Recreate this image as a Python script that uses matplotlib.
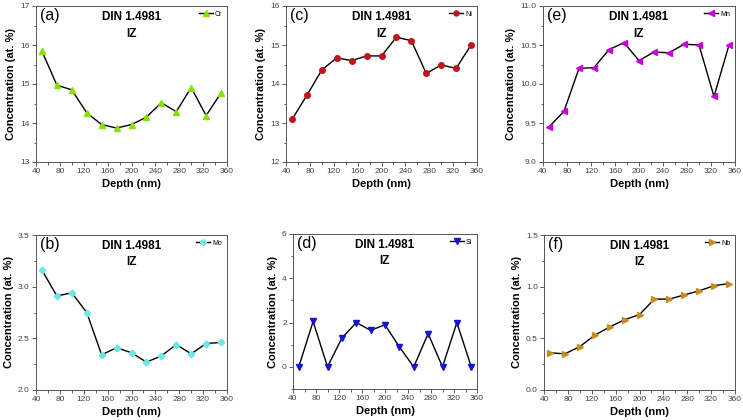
import matplotlib
matplotlib.use("Agg")
import matplotlib.pyplot as plt
from matplotlib.ticker import MultipleLocator, FormatStrFormatter

plt.rcParams['font.family'] = ['Liberation Sans', 'DejaVu Sans']

depth = [50, 75, 100, 125, 150, 175, 200, 225, 250, 275, 300, 325, 350]

cr = [15.84, 14.97, 14.85, 14.26, 13.96, 13.87, 13.96, 14.15, 14.52, 14.29, 14.91, 14.19, 14.77]
ni = [13.09, 13.71, 14.36, 14.67, 14.60, 14.72, 14.72, 15.20, 15.11, 14.27, 14.49, 14.40, 15.00]
mn = [9.45, 9.65, 10.20, 10.21, 10.44, 10.53, 10.30, 10.41, 10.40, 10.51, 10.50, 9.84, 10.50]
mo = [3.16, 2.91, 2.94, 2.75, 2.34, 2.41, 2.36, 2.27, 2.33, 2.44, 2.35, 2.45, 2.46]
si = [0.0, 2.05, 0.0, 1.30, 2.00, 1.65, 1.90, 0.90, 0.0, 1.50, 0.0, 2.00, 0.0]
nb = [0.36, 0.35, 0.42, 0.53, 0.61, 0.68, 0.73, 0.88, 0.88, 0.92, 0.96, 1.01, 1.03]

panels = [
    # label, name, values, marker, color, ylim, ymajor, yminor, fmt, rect
    ("(a)", "Cr", cr, "^", "#86e000", (13, 17), 1, 0.5, "%d", [36, 6, 227, 162]),
    ("(c)", "Ni", ni, "o", "#c0141c", (12, 16), 1, 0.5, "%d", [286, 6, 477, 162]),
    ("(e)", "Mn", mn, "<", "#c800d8", (9, 11), 0.5, 0.25, "%.1f", [543, 6, 735, 162]),
    ("(b)", "Mo", mo, "D", "#6ee6e6", (2, 3.5), 0.5, 0.25, "%.1f", [36, 235, 227, 390]),
    ("(d)", "Si", si, "v", "#1414d2", (-1, 6), 2, 1, "%d", [293, 234, 477, 389]),
    ("(f)", "Nb", nb, ">", "#c88c1e", (0, 1.5), 0.5, 0.25, "%.1f", [544, 235, 735, 390]),
]

W, H = 743, 420
fig = plt.figure(figsize=(W / 100, H / 100), dpi=100)

for lab, name, vals, mk, col, ylim, ymaj, ymin, fmt, (x0, y0, x1, y1) in panels:
    ax = fig.add_axes([x0 / W, 1 - y1 / H, (x1 - x0) / W, (y1 - y0) / H])
    ms = 3.4 if mk == "D" else (4.0 if mk == "o" else 4.6)
    ax.plot(depth, vals, color="black", lw=1.0, marker=mk, ms=ms,
            mfc=col, mec=col, label=name)
    ax.set_xlim(40, 360)
    ax.set_ylim(*ylim)
    ax.xaxis.set_major_locator(MultipleLocator(40))
    ax.xaxis.set_minor_locator(MultipleLocator(20))
    ax.yaxis.set_major_locator(MultipleLocator(ymaj))
    ax.yaxis.set_minor_locator(MultipleLocator(ymin))
    ax.yaxis.set_major_formatter(FormatStrFormatter(fmt))
    ax.tick_params(which="both", direction="out", labelsize=6, labelcolor="#444444",
                   color="#444444", width=0.6, pad=1.5)
    ax.tick_params(which="major", length=3)
    ax.tick_params(which="minor", length=1.8)
    for s in ax.spines.values():
        s.set_color("#555555")
        s.set_linewidth(0.7)
    ax.set_xlabel("Depth (nm)", fontsize=8, fontweight="bold", labelpad=3)
    ax.set_ylabel("Concentration (at. %)", fontsize=8, fontweight="bold", labelpad=3)
    ax.text(0.5, 0.965, "DIN 1.4981\nIZ", transform=ax.transAxes, ha="center", va="top",
            fontsize=8.5, fontweight="bold", linespacing=1.45)
    ax.text(0.02, 0.985, lab, transform=ax.transAxes, ha="left", va="top", fontsize=11.5)
    leg = ax.legend(loc="upper right", frameon=False, fontsize=5, handlelength=2.0,
                    handletextpad=0.3, borderaxespad=0.3, markerscale=0.9)

fig.savefig("out.png", dpi=100)
